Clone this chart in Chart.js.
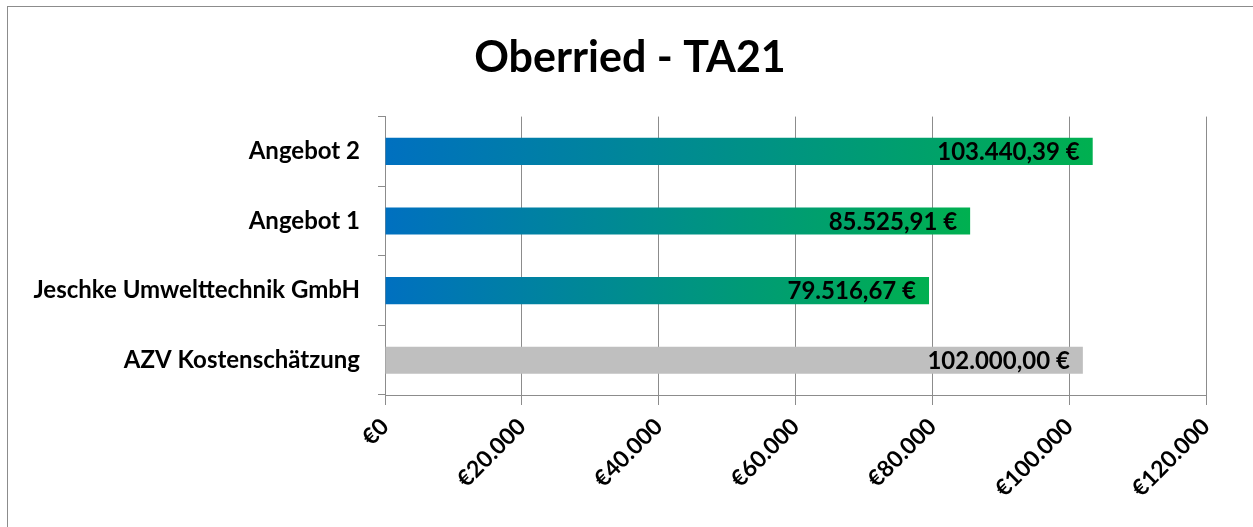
<!DOCTYPE html>
<html>
<head>
<meta charset="utf-8">
<script src="https://cdn.jsdelivr.net/npm/chart.js@4.4.1/dist/chart.umd.min.js"></script>
<style>
  html, body { margin: 0; padding: 0; background: #fff; overflow: hidden; }
  #wrap { position: relative; width: 1253px; height: 527px; }
  #frame {
    position: absolute; left: 7px; top: 6px; width: 1300px; height: 600px;
    border: 1px solid #8c8c8c; pointer-events: none;
  }
</style>
</head>
<body>
<div id="wrap">
  <canvas id="chart" width="1253" height="527"></canvas>
  <div id="frame"></div>
</div>
<script>
// Chart data (top to bottom)
const categories = ['Angebot 2', 'Angebot 1', 'Jeschke Umwelttechnik GmbH', 'AZV Kostenschätzung'];
const amounts = [103440.39, 85525.91, 79516.67, 102000.00];
const tickLabels = ['€0', '€20.000', '€40.000', '€60.000', '€80.000', '€100.000', '€120.000'];
const estimateCategory = 'AZV Kostenschätzung';

// 103440.39 -> "103.440,39 €"
function formatEuro(v) {
    const parts = v.toFixed(2).split('.');
    const whole = parts[0].replace(/\B(?=(\d{3})+(?!\d))/g, '.');
    return whole + ',' + parts[1] + ' €';
}

Chart.defaults.font.family = 'Lato';
Chart.defaults.color = '#000';

// values printed inside the end of each bar
const valueLabels = {
    id: 'valueLabels',
    afterDatasetsDraw(chart) {
        const ctx = chart.ctx;
        const meta = chart.getDatasetMeta(0);
        ctx.save();
        ctx.font = 'bold 24px Lato';
        ctx.fillStyle = '#000';
        ctx.textAlign = 'right';
        ctx.textBaseline = 'middle';
        meta.data.forEach((bar, i) => {
            ctx.fillText(formatEuro(amounts[i]), bar.x - 13, bar.y + 1);
        });
        ctx.restore();
    }
};

new Chart(document.getElementById('chart'), {
    type: 'bar',
    data: {
        labels: categories,
        datasets: [{
            data: amounts,
            backgroundColor: (c) => {
                if (c.type !== 'data') return '#0070C0';
                if (categories[c.dataIndex] === estimateCategory) return '#BFBFBF';
                const x = c.chart.scales.x;
                if (!x || !c.chart.chartArea) return '#0070C0';
                const x0 = x.getPixelForValue(0);
                const x1 = x.getPixelForValue(c.raw);
                if (!isFinite(x0) || !isFinite(x1)) return '#0070C0';
                const g = c.chart.ctx.createLinearGradient(x0, 0, x1, 0);
                g.addColorStop(0, '#0070C0');
                g.addColorStop(1, '#00B050');
                return g;
            },
            borderWidth: 0,
            barPercentage: 0.39,
            categoryPercentage: 1
        }]
    },
    options: {
        indexAxis: 'y',
        responsive: false,
        animation: false,
        layout: { padding: { left: 7, right: 0, top: 0, bottom: 0 } },
        plugins: {
            legend: { display: false },
            tooltip: { enabled: false },
            title: {
                display: true,
                text: 'Oberried - TA21',
                color: '#000',
                font: { size: 43, weight: 'bold' },
                padding: { top: 32, bottom: 33 }
            }
        },
        scales: {
            x: {
                min: 0,
                max: 120000,
                ticks: {
                    stepSize: 20000,
                    minRotation: 45,
                    maxRotation: 45,
                    padding: 8,
                    color: '#000',
                    font: { size: 23, weight: 'bold' },
                    callback: (value, index) => tickLabels[index]
                },
                grid: { color: '#8c8c8c', lineWidth: 1, drawTicks: true, tickLength: 10 },
                border: { color: '#8c8c8c' },
                afterFit: (scale) => { scale.height = 132; }
            },
            y: {
                ticks: {
                    padding: 18,
                    color: '#000',
                    font: { size: 24, weight: 'bold' }
                },
                grid: { drawOnChartArea: false, drawTicks: true, tickLength: 7, color: '#8c8c8c', offset: true },
                border: { color: '#8c8c8c' },
                afterFit: (scale) => { scale.width = 378; }
            },
            // empty strip on the right so the title stays centred on the whole frame
            yRight: {
                type: 'category',
                position: 'right',
                ticks: { display: false },
                grid: { display: false },
                border: { display: false },
                afterFit: (scale) => { scale.width = 47; }
            }
        }
    },
    plugins: [valueLabels]
});
</script>
</body>
</html>
